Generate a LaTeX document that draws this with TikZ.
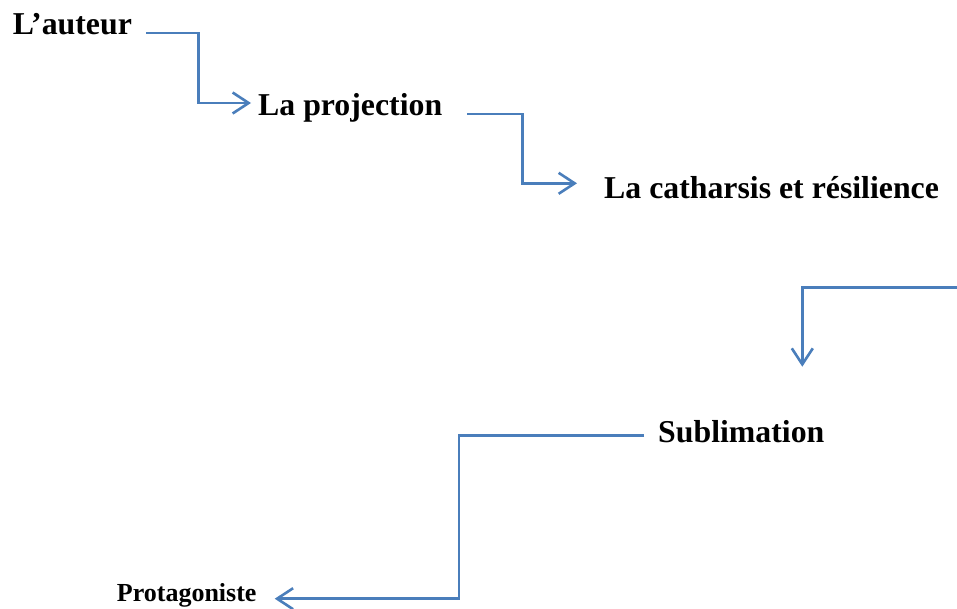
\documentclass[tikz,border=0pt]{standalone}
\usepackage{fontspec}
\setmainfont{Liberation Serif}
\usetikzlibrary{arrows.meta}
\definecolor{connblue}{RGB}{74,126,187}
\begin{document}
\begin{tikzpicture}[x=1pt,y=-1pt,
  lbl/.style={inner sep=0pt,anchor=base west,font=\fontsize{31.8}{36}\selectfont\bfseries},
  smalllbl/.style={inner sep=0pt,anchor=base west,font=\fontsize{26}{30}\selectfont\bfseries},
  conn/.style={draw=connblue,line width=2.6pt,-{Straight Barb[length=16pt,width=21pt,line width=2.6pt]}}]
\useasboundingbox (0,0) rectangle (957,608);
\node[lbl] (auteur) at (12.7,34) {L’auteur};
\node[lbl] (proj) at (258,115.7) {La projection};
\node[lbl] (cath) at (604,198.3) {La catharsis et résilience};
\node[lbl] (subl) at (658,442.7) {Sublimation};
\node[smalllbl] (prot) at (116.7,601.7) {Protagoniste};
\coordinate (edge) at (958,287.3);
% connectors
\draw[conn] ([xshift=14pt,yshift=1pt]auteur.base east) -- ++(52.5,0) |- ([xshift=-7pt,yshift=12.7pt]proj.base west);
\draw[conn] ([xshift=25pt,yshift=1.7pt]proj.base east) -- ++(55,0) |- ([xshift=-27pt,yshift=15pt]cath.base west);
\draw[conn] (edge) -| ([xshift=144.3pt,yshift=76pt]subl.base west);
\draw[conn] ([xshift=-14pt,yshift=7pt]subl.base west) -- ++(-185,0) |- ([xshift=18pt,yshift=3pt]prot.base east);
\end{tikzpicture}
\end{document}
